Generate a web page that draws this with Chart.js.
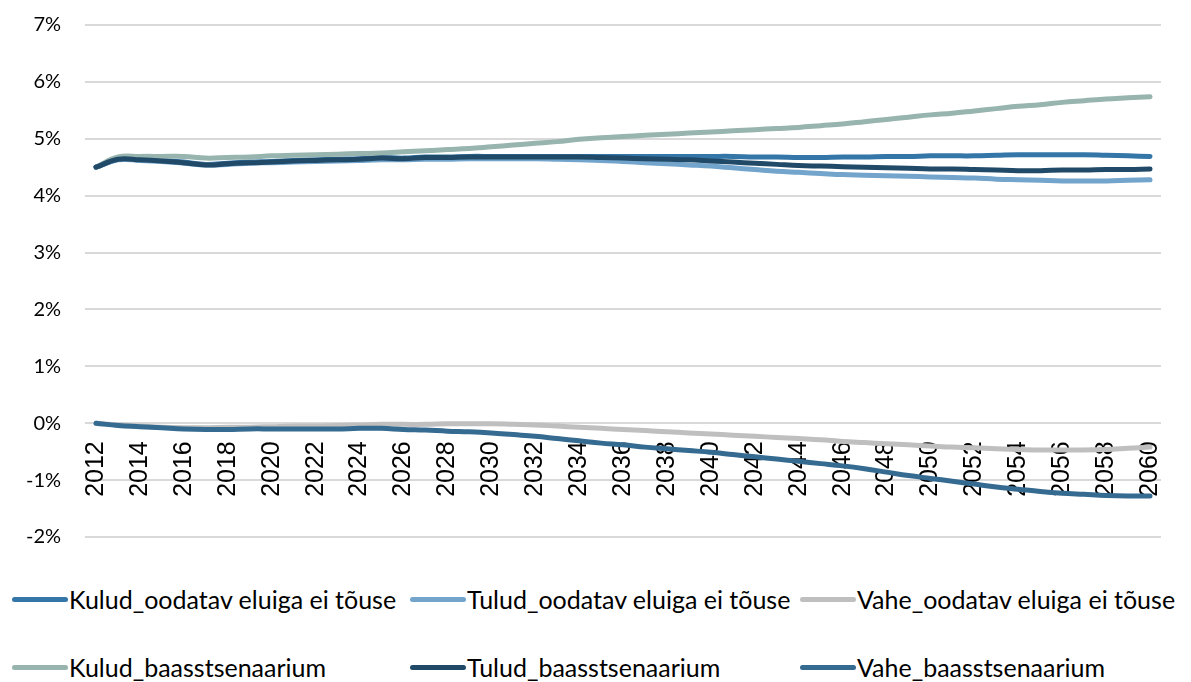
<!DOCTYPE html>
<html>
<head>
<meta charset="utf-8">
<script src="https://cdn.jsdelivr.net/npm/chart.js@4"></script>
<style>
  body { margin: 0; background: #fff; width: 1191px; height: 682px; overflow: hidden; font-family: Lato, sans-serif; position: relative; }
  #wrap { position: absolute; left: 0; top: -11px; width: 1191px; height: 584px; }
  #legend { position: absolute; left: 0; top: 578px; width: 1191px; }
  .item { position: absolute; display: flex; align-items: center; font-size: 25px; color: #000; white-space: nowrap; }
  .swatch { width: 56px; height: 5px; border-radius: 3px; margin-right: 1px; }
</style>
</head>
<body>
<div id="wrap"><canvas id="chart"></canvas></div>
<div id="legend"></div>
<script>
// Years on the category axis
const years = [];
for (let y = 2012; y <= 2060; y++) years.push(String(y));

// Series names
const seriesNames = [
  'Kulud_oodatav eluiga ei tõuse',
  'Tulud_oodatav eluiga ei tõuse',
  'Vahe_oodatav eluiga ei tõuse',
  'Kulud_baasstsenaarium',
  'Tulud_baasstsenaarium',
  'Vahe_baasstsenaarium'
];
const seriesColors = ['#3476A8', '#72A4CC', '#BFBFBF', '#97B4AE', '#214A68', '#356A91'];

// Values in % of GDP (2012 ... 2060)
const kuludOodatav = [4.50, 4.64, 4.64, 4.62, 4.59, 4.55, 4.57, 4.59, 4.60, 4.62, 4.63, 4.64, 4.65, 4.67, 4.66, 4.68, 4.68, 4.69, 4.69,
  4.69, 4.69, 4.69, 4.69, 4.69, 4.69, 4.69, 4.69, 4.69, 4.69, 4.69, 4.68, 4.68, 4.67, 4.67, 4.68, 4.68, 4.69, 4.69, 4.70,
  4.70, 4.70, 4.71, 4.72, 4.72, 4.72, 4.72, 4.71, 4.70, 4.69];
const tuludOodatav = [4.50, 4.63, 4.62, 4.60, 4.57, 4.54, 4.55, 4.57, 4.58, 4.59, 4.60, 4.61, 4.62, 4.63, 4.63, 4.64, 4.64, 4.65, 4.65,
  4.65, 4.65, 4.64, 4.63, 4.62, 4.60, 4.58, 4.56, 4.54, 4.52, 4.49, 4.46, 4.43, 4.41, 4.39, 4.37, 4.36, 4.35, 4.34, 4.33,
  4.32, 4.31, 4.29, 4.28, 4.27, 4.26, 4.26, 4.26, 4.27, 4.28];
const vaheOodatav = [0.00, -0.03, -0.05, -0.07, -0.08, -0.08, -0.07, -0.07, -0.06, -0.05, -0.05, -0.04, -0.03, -0.02, -0.02, -0.02, -0.01, -0.01, -0.01,
  -0.02, -0.03, -0.05, -0.07, -0.09, -0.11, -0.13, -0.15, -0.17, -0.19, -0.21, -0.23, -0.25, -0.27, -0.29, -0.32, -0.34, -0.36, -0.38, -0.40,
  -0.42, -0.43, -0.45, -0.46, -0.47, -0.47, -0.47, -0.46, -0.44, -0.42];
const kuludBaas = [4.50, 4.68, 4.69, 4.69, 4.69, 4.66, 4.67, 4.68, 4.70, 4.71, 4.72, 4.73, 4.74, 4.75, 4.77, 4.79, 4.81, 4.83, 4.86,
  4.89, 4.92, 4.95, 4.99, 5.02, 5.04, 5.06, 5.08, 5.10, 5.12, 5.14, 5.16, 5.18, 5.20, 5.23, 5.26, 5.30, 5.34, 5.38, 5.42,
  5.45, 5.49, 5.53, 5.57, 5.60, 5.64, 5.67, 5.70, 5.72, 5.74];
const tuludBaas = [4.50, 4.64, 4.63, 4.61, 4.58, 4.54, 4.56, 4.58, 4.59, 4.61, 4.62, 4.63, 4.64, 4.66, 4.65, 4.67, 4.67, 4.68, 4.68,
  4.68, 4.68, 4.68, 4.68, 4.67, 4.66, 4.65, 4.64, 4.63, 4.61, 4.59, 4.57, 4.55, 4.53, 4.52, 4.51, 4.50, 4.49, 4.48, 4.47,
  4.47, 4.46, 4.45, 4.44, 4.44, 4.45, 4.45, 4.46, 4.46, 4.47];
const vaheBaas = [0.00, -0.04, -0.06, -0.08, -0.10, -0.11, -0.11, -0.10, -0.10, -0.10, -0.10, -0.10, -0.09, -0.09, -0.11, -0.12, -0.14, -0.15, -0.17,
  -0.20, -0.23, -0.27, -0.31, -0.35, -0.38, -0.42, -0.45, -0.48, -0.51, -0.55, -0.59, -0.63, -0.67, -0.71, -0.75, -0.80, -0.86, -0.92, -0.97,
  -1.02, -1.07, -1.12, -1.16, -1.20, -1.23, -1.25, -1.27, -1.28, -1.28];

const seriesValues = [kuludOodatav, tuludOodatav, vaheOodatav, kuludBaas, tuludBaas, vaheBaas];

// y axis ticks
const yMin = -2, yMax = 7, yStep = 1;

const datasets = seriesNames.map((name, i) => ({
  label: name,
  data: seriesValues[i],
  borderColor: seriesColors[i],
  backgroundColor: seriesColors[i],
  borderWidth: 5,
  pointRadius: 0,
  tension: 0.4,
  borderCapStyle: 'round',
  borderJoinStyle: 'round',
  order: seriesNames.length - i   // later series on top, like Excel
}));

new Chart(document.getElementById('chart'), {
  type: 'line',
  data: { labels: years, datasets: datasets },
  options: {
    responsive: true,
    maintainAspectRatio: false,
    animation: false,
    layout: { padding: { top: 0, right: 30, bottom: 0, left: 2 } },
    plugins: { legend: { display: false }, tooltip: { enabled: false } },
    scales: {
      x: {
        position: { y: 0 },
        offset: true,
        grid: { display: false },
        border: { display: false },
        ticks: {
          autoSkip: false,
          minRotation: 90,
          maxRotation: 90,
          padding: 10,
          color: '#000',
          font: { family: 'Liberation Sans', size: 25 },
          callback: function (val, idx) { return idx % 2 === 0 ? this.getLabelForValue(val) : ''; }
        }
      },
      y: {
        min: yMin,
        max: yMax,
        grid: { color: '#D9D9D9', lineWidth: 2, drawTicks: false },
        border: { display: false },
        ticks: {
          stepSize: yStep,
          padding: 24,
          color: '#000',
          font: { family: 'Lato', size: 20 },
          callback: v => v + '%'
        }
      }
    }
  }
});

// Legend in a fixed grid, like the spreadsheet one
const legend = document.getElementById('legend');
const colX = [12, 410, 800];
const rowY = [6, 74];
seriesNames.forEach((name, i) => {
  const item = document.createElement('div');
  item.className = 'item';
  item.style.left = colX[i % 3] + 'px';
  item.style.top = rowY[Math.floor(i / 3)] + 'px';
  const sw = document.createElement('span');
  sw.className = 'swatch';
  sw.style.background = seriesColors[i];
  const txt = document.createElement('span');
  txt.textContent = name;
  item.appendChild(sw);
  item.appendChild(txt);
  legend.appendChild(item);
});
</script>
</body>
</html>
